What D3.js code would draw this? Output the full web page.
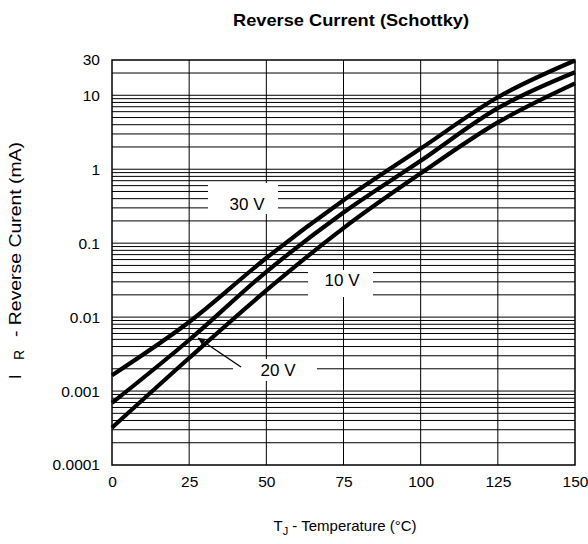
<!DOCTYPE html>
<html>
<head>
<meta charset="utf-8">
<script src="https://cdn.jsdelivr.net/npm/d3@7"></script>
<style>
  body { margin: 0; background: #fff; }
  text { font-family: "Liberation Sans", Arial, sans-serif; fill: #000; }
</style>
</head>
<body>
<div id="chart"></div>
<script>
// Data
var temps = [0, 25, 50, 75, 100, 125, 150];
var i30 = [0.00164, 0.0086, 0.063, 0.38, 1.9, 9.4, 29.5];
var i20 = [0.00069, 0.0049, 0.041, 0.26, 1.3, 6.7, 20.5];
var i10 = [0.00032, 0.0028, 0.023, 0.16, 0.88, 4.3, 14.5];
var yTicks = [0.0001, 0.001, 0.01, 0.1, 1, 10, 30];
var yTickLabels = ["0.0001", "0.001", "0.01", "0.1", "1", "10", "30"];
var xTicks = [0, 25, 50, 75, 100, 125, 150];

var svgWidth = 588;
var svgHeight = 544;

var margin = { top: 60, bottom: 79, right: 13, left: 112 };
var width = svgWidth - margin.left - margin.right;
var height = svgHeight - margin.top - margin.bottom;

var svg = d3.select("#chart")
    .append("svg")
    .attr("width", svgWidth)
    .attr("height", svgHeight);

var chartGroup = svg.append("g")
    .attr("transform", `translate(${margin.left}, ${margin.top})`);

var xScale = d3.scaleLinear().domain([0, 150]).range([0, width]);
var yScale = d3.scaleLog().domain([0.0001, 30]).range([height, 0]);

// Horizontal grid: every 1..9 of each decade
var gridVals = [];
for (var e = -4; e <= 1; e++) {
    for (var m = 1; m <= 9; m++) {
        var v = m * Math.pow(10, e);
        if (v > 0.0001 && v < 30) gridVals.push(v);
    }
}
chartGroup.selectAll(".hgrid")
    .data(gridVals)
    .enter()
    .append("line")
    .attr("x1", 0)
    .attr("x2", width)
    .attr("y1", d => yScale(d))
    .attr("y2", d => yScale(d))
    .attr("stroke", "#000")
    .attr("stroke-width", 1);

// Vertical grid
chartGroup.selectAll(".vgrid")
    .data(xTicks.slice(1, -1))
    .enter()
    .append("line")
    .attr("x1", d => xScale(d))
    .attr("x2", d => xScale(d))
    .attr("y1", 0)
    .attr("y2", height)
    .attr("stroke", "#000")
    .attr("stroke-width", 1);

// Frame
chartGroup.append("rect")
    .attr("width", width)
    .attr("height", height)
    .attr("fill", "none")
    .attr("stroke", "#000")
    .attr("stroke-width", 1.5);

// Axes (labels only)
var bottomAxis = d3.axisBottom(xScale).tickValues(xTicks).tickSize(0).tickPadding(11);
var leftAxis = d3.axisLeft(yScale).tickValues(yTicks).tickSize(0).tickPadding(12)
    .tickFormat((d, i) => yTickLabels[i]);

var gx = chartGroup.append("g")
    .attr("transform", `translate(0, ${height})`)
    .call(bottomAxis);
var gy = chartGroup.append("g").call(leftAxis);
[gx, gy].forEach(function(g) {
    g.select(".domain").remove();
    g.selectAll("text")
        .style("font-size", "15.5px")
        .style("font-family", "Liberation Sans, Arial, sans-serif");
});

// Label boxes (white backgrounds behind curve labels)
var labels = [
    { text: "30 V", x: 247, y: 204, bx: 208, bw: 70, by: 183, bh: 31 },
    { text: "10 V", x: 342, y: 280, bx: 308, bw: 65, by: 270, bh: 27 },
    { text: "20 V", x: 278, y: 370, bx: 233, bw: 84, by: 359, bh: 22 }
];
svg.selectAll(".lblbox")
    .data(labels)
    .enter()
    .append("rect")
    .attr("x", d => d.bx)
    .attr("y", d => d.by)
    .attr("width", d => d.bw)
    .attr("height", d => d.bh)
    .attr("fill", "#fff");

// Curves
var line = d3.line()
    .x((d, i) => xScale(temps[i]))
    .y(d => yScale(d))
    .curve(d3.curveMonotoneX);

[i30, i20, i10].forEach(function(series) {
    chartGroup.append("path")
        .datum(series)
        .attr("d", line)
        .attr("fill", "none")
        .attr("stroke", "#000")
        .attr("stroke-width", 4.2);
});

svg.selectAll(".lbl")
    .data(labels)
    .enter()
    .append("text")
    .attr("x", d => d.x)
    .attr("y", d => d.y + 6)
    .attr("text-anchor", "middle")
    .style("font-size", "17px")
    .text(d => d.text);

// Arrow for 20 V
svg.append("defs").append("marker")
    .attr("id", "arrow")
    .attr("viewBox", "0 0 10 10")
    .attr("refX", 10)
    .attr("refY", 5)
    .attr("markerWidth", 9)
    .attr("markerHeight", 7)
    .attr("orient", "auto")
    .attr("markerUnits", "userSpaceOnUse")
    .append("path")
    .attr("d", "M0,0 L10,5 L0,10 z")
    .attr("fill", "#000");

svg.append("line")
    .attr("x1", 241)
    .attr("y1", 367)
    .attr("x2", 198)
    .attr("y2", 338)
    .attr("stroke", "#000")
    .attr("stroke-width", 1.3)
    .attr("marker-end", "url(#arrow)");

// Title and axis titles
svg.append("text")
    .attr("x", 351)
    .attr("y", 26)
    .attr("text-anchor", "middle")
    .attr("textLength", 236)
    .attr("lengthAdjust", "spacingAndGlyphs")
    .style("font-size", "17px")
    .style("font-weight", "bold")
    .text("Reverse Current (Schottky)");

var xt = svg.append("text")
    .attr("x", 345)
    .attr("y", 531)
    .attr("text-anchor", "middle")
    .style("font-size", "15px");
xt.append("tspan").text("T");
xt.append("tspan").attr("dy", 4).style("font-size", "11px").text("J");
xt.append("tspan").attr("dy", -4).text(" - Temperature (\u00B0C)");

// y title in pieces so it spans like the reference
svg.append("text")
    .attr("transform", "translate(21, 379) rotate(-90)")
    .style("font-size", "16px")
    .text("I");
svg.append("text")
    .attr("transform", "translate(24, 360) rotate(-90)")
    .style("font-size", "14px")
    .text("R");
svg.append("text")
    .attr("transform", "translate(21, 337) rotate(-90)")
    .attr("textLength", 195)
    .attr("lengthAdjust", "spacingAndGlyphs")
    .style("font-size", "16.5px")
    .text("-  Reverse Curent (mA)");
</script>
</body>
</html>
